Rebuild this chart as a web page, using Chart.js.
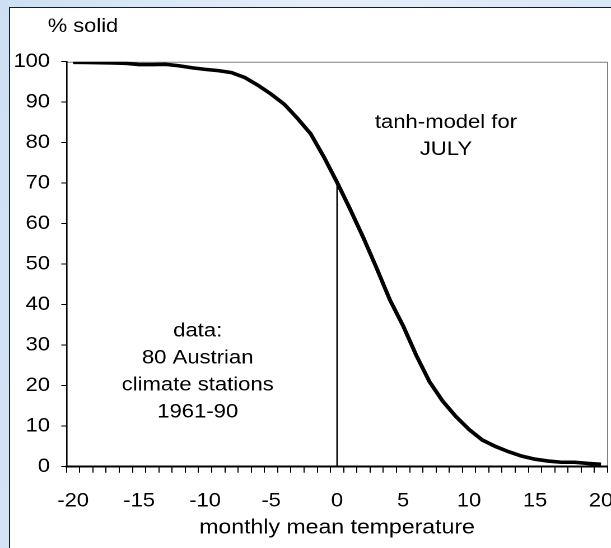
<!DOCTYPE html>
<html>
<head>
<meta charset="utf-8">
<script src="https://cdn.jsdelivr.net/npm/chart.js@4.4.0/dist/chart.umd.min.js"></script>
<style>
  html, body { margin: 0; padding: 0; overflow: hidden; }
  body {
    width: 611px; height: 548px;
    background: linear-gradient(100deg, #cddff3 0%, #e6eff9 45%, #d5e4f5 100%);
  }
  /* the chart is drawn narrow and widened, like the wide lettering of the original sheet */
  #wrap { width: 546px; height: 548px; transform: scaleX(1.12); transform-origin: 0 0; }
</style>
</head>
<body>
<div id="wrap"><canvas id="solidChart" width="546" height="548"></canvas></div>
<script>
// monthly mean temperature classes (°C)
const temps = ['-20', '-19', '-18', '-17', '-16', '-15', '-14', '-13', '-12', '-11',
  '-10', '-9', '-8', '-7', '-6', '-5', '-4', '-3', '-2', '-1',
  '0', '1', '2', '3', '4', '5', '6', '7', '8', '9',
  '10', '11', '12', '13', '14', '15', '16', '17', '18', '19', '20'];

// share of solid precipitation, tanh-model for July (%)
const solidShare = [99.85, 99.8, 99.75, 99.7, 99.6, 99.3, 99.3, 99.35, 99.0, 98.5,
  98.1, 97.8, 97.3, 96.1, 94.2, 92.0, 89.5, 86.0, 82.2, 76.5,
  70.2, 63.5, 56.5, 49.0, 41.2, 34.8, 27.5, 21.0, 16.2, 12.4,
  9.2, 6.6, 5.0, 3.7, 2.6, 1.85, 1.4, 1.1, 1.1, 0.8, 0.6];

const freezeTemp = '0';
const labelEvery = 5;

const FAMILY = "'Liberation Sans', Arial, sans-serif";

// white sheet with black edge, grey frame round the plot area
const framePlugin = {
  id: 'frame',
  beforeDraw(chart) {
    const c = chart.ctx;
    const a = chart.chartArea;
    c.save();
    c.fillStyle = '#fff';
    c.fillRect(8, 7, chart.width, chart.height);
    c.strokeStyle = '#1a1a1a';
    c.lineWidth = 1;
    c.beginPath();
    c.moveTo(8.5, chart.height);
    c.lineTo(8.5, 7.5);
    c.lineTo(chart.width, 7.5);
    c.stroke();
    c.strokeStyle = '#808080';
    c.beginPath();
    c.moveTo(a.left, a.top + 0.5);
    c.lineTo(a.right, a.top + 0.5);
    c.lineTo(a.right, a.bottom);
    c.stroke();
    c.restore();
  },
  afterDraw(chart) {
    const c = chart.ctx;
    const x = chart.scales.x;
    const y = chart.scales.y;
    c.save();
    c.fillStyle = '#000';
    c.textAlign = 'center';
    c.textBaseline = 'middle';
    c.font = '19.5px ' + FAMILY;
    c.fillText('% solid', 74.1, 26.5);

    c.font = '19.7px ' + FAMILY;
    const notes = [
      { at: 28.25, v: 85.0, lines: ['tanh-model for', 'JULY'] },
      { at: 9.44, v: 33.5, lines: ['data:', '80 Austrian', 'climate stations', '1961-90'] }
    ];
    notes.forEach(n => {
      const px = x.getPixelForValue(n.at);
      const py = y.getPixelForValue(n.v);
      n.lines.forEach((t, i) => c.fillText(t, px, py + i * 27));
    });
    c.restore();
  }
};

const ctx = document.getElementById('solidChart');
new Chart(ctx.getContext('2d'), {
  type: 'line',
  data: {
    labels: temps,
    datasets: [
      {
        data: solidShare,
        borderColor: '#000',
        borderWidth: 3.6,
        pointRadius: 0,
        tension: 0
      },
      {
        // freezing-point marker up to the curve
        data: [
          { x: freezeTemp, y: 0 },
          { x: freezeTemp, y: solidShare[temps.indexOf(freezeTemp)] }
        ],
        borderColor: '#000',
        borderWidth: 1.3,
        pointRadius: 0
      }
    ]
  },
  options: {
    responsive: false,
    animation: false,
    devicePixelRatio: 2,
    layout: { padding: { top: 61.7, right: 3.5, left: 0, bottom: 0 } },
    plugins: {
      legend: { display: false },
      tooltip: { enabled: false }
    },
    scales: {
      x: {
        offset: true,
        grid: { offset: true, drawOnChartArea: false, tickLength: 6, color: '#000', lineWidth: 1 },
        border: { color: '#000', width: 2 },
        ticks: {
          autoSkip: false,
          maxRotation: 0,
          padding: 16.6,
          color: '#000',
          font: { family: FAMILY, size: 19.5 },
          callback: (v, i) => (i % labelEvery === 0 ? temps[i] : '')
        },
        title: {
          display: true,
          text: 'monthly mean temperature',
          color: '#000',
          font: { family: FAMILY, size: 20.6 },
          padding: { top: 0, bottom: 7.6 }
        },
        afterFit: s => { s.paddingLeft = 0; s.paddingRight = 0; s.height = 548 - 466.7; }
      },
      y: {
        min: 0,
        max: 100,
        ticks: { stepSize: 10, padding: 10.1, color: '#000', font: { family: FAMILY, size: 19.5 } },
        grid: { drawOnChartArea: false, tickLength: 4.7, color: '#000', lineWidth: 1 },
        border: { color: '#000', width: 1.3 },
        afterFit: s => { s.width = 59.4; }
      }
    }
  },
  plugins: [framePlugin]
});
</script>
</body>
</html>
